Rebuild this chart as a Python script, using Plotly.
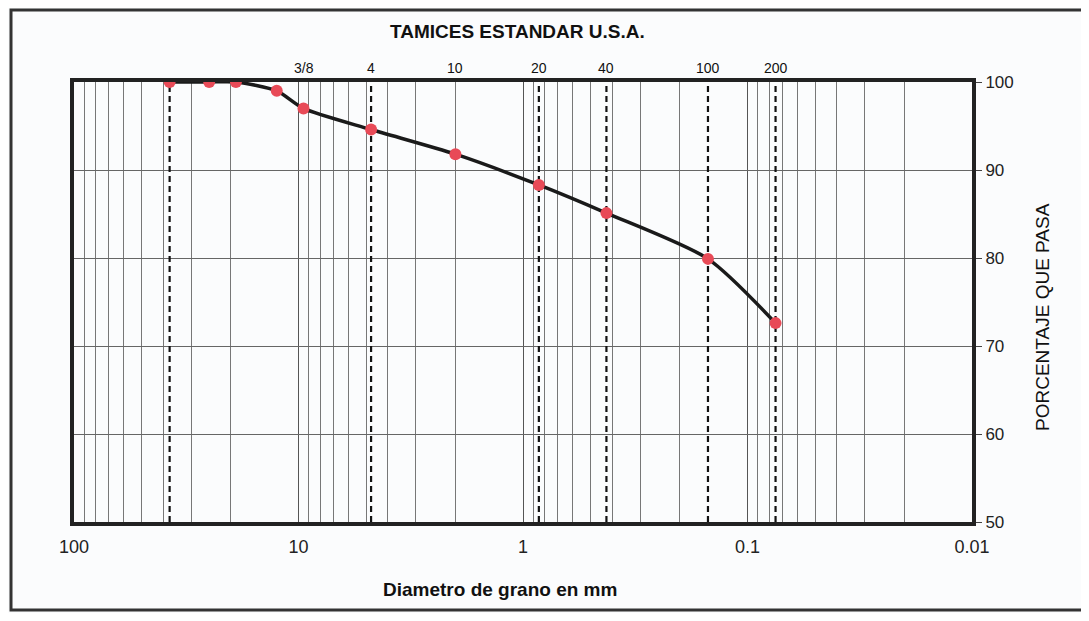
import math
import plotly.graph_objects as go

# Data
diam_mm = [37.5, 25.0, 19.0, 12.5, 9.5, 4.75, 2.0, 0.85, 0.425, 0.15, 0.075]
pct_pasa = [100.0, 100.0, 100.0, 99.0, 97.0, 94.6, 91.8, 88.3, 85.1, 79.9, 72.6]

sieve_labels = ["3/8", "4", "10", "20", "40", "100", "200"]
sieve_sizes = [9.5, 4.75, 2.0, 0.85, 0.425, 0.15, 0.075]

dashed_sizes = [37.5, 4.75, 0.85, 0.425, 0.15, 0.075]

x_ticks = [100, 10, 1, 0.1, 0.01]
x_tick_text = ["100", "10", "1", "0.1", "0.01"]
y_ticks = [50, 60, 70, 80, 90, 100]

minor_vals = [m * 10 ** e for e in range(-2, 2) for m in range(2, 10)]

FONT = "Liberation Sans, Arial, sans-serif"

fig = go.Figure()

# dashed sieve lines
for s in dashed_sizes:
    fig.add_trace(go.Scatter(
        x=[s, s], y=[50, 100], mode="lines",
        line=dict(color="#111111", width=2.2, dash="6px,4px"),
        hoverinfo="skip", showlegend=False))

# gradation curve
fig.add_trace(go.Scatter(
    x=diam_mm, y=pct_pasa, mode="lines+markers",
    line=dict(color="#1a1a1a", width=3.5, shape="spline", smoothing=0.7),
    marker=dict(color="#E84A57", size=12, line=dict(width=0)),
    showlegend=False))

annotations = []
for lab, s in zip(sieve_labels, sieve_sizes):
    annotations.append(dict(
        x=math.log10(s), y=1.0, xref="x", yref="paper", yanchor="bottom",
        yshift=4, text=lab, showarrow=False,
        font=dict(family=FONT, size=14, color="#111111")))

annotations += [
    dict(x=0.494, y=1.143, xref="paper", yref="paper", text="<b>TAMICES ESTANDAR U.S.A.</b>",
         showarrow=False, font=dict(family=FONT, size=19, color="#111111")),
    dict(x=0.474, y=-0.182, xref="paper", yref="paper", text="<b>Diametro de grano en mm</b>",
         showarrow=False, font=dict(family=FONT, size=19, color="#111111")),
    dict(x=1.093, y=0.466, xref="paper", yref="paper", text="PORCENTAJE QUE PASA",
         showarrow=False, textangle=-90, font=dict(family=FONT, size=19, color="#111111")),
]

fig.update_layout(
    width=1073, height=605,
    margin=dict(l=66, r=109, t=74, b=91),
    paper_bgcolor="#FBFCFD", plot_bgcolor="#FBFCFD",
    font=dict(family=FONT, size=17, color="#222222"),
    annotations=annotations,
    shapes=[dict(type="rect", xref="paper", yref="paper",
                 xsizemode="pixel", xanchor=0, x0=-63, x1=1015,
                 ysizemode="pixel", yanchor=0, y0=-88, y1=512,
                 line=dict(color="#333333", width=3))],
)

fig.update_xaxes(
    type="log", range=[2, -2], autorange=False,
    tickvals=x_ticks, ticktext=x_tick_text, ticks="",
    ticklabelstandoff=5,
    showgrid=True, gridcolor="#555555", gridwidth=1,
    minor=dict(tickvals=minor_vals, showgrid=True, gridcolor="#777777", gridwidth=1, ticks=""),
    showline=True, linecolor="#222222", linewidth=4, mirror=True,
    zeroline=False, tickfont=dict(family=FONT, size=18, color="#222222"),
)
fig.update_yaxes(
    range=[50, 100], side="right", tickvals=y_ticks,
    ticks="outside", ticklen=6, tickcolor="#444444",
    showgrid=True, gridcolor="#666666", gridwidth=1,
    showline=True, linecolor="#222222", linewidth=4, mirror=True,
    zeroline=False, tickfont=dict(family=FONT, size=17, color="#222222"),
)

fig.write_html("out.html")
